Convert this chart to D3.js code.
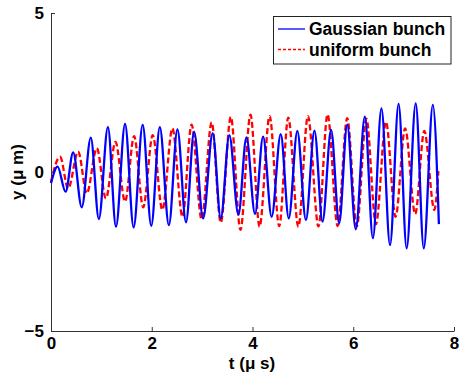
<!DOCTYPE html>
<html>
<head>
<meta charset="utf-8">
<script src="https://cdnjs.cloudflare.com/ajax/libs/d3/7.8.5/d3.min.js"></script>
<style>
  body { margin: 0; background: #fff; }
  svg text { font-family: "Liberation Sans", Arial, sans-serif; font-weight: bold; }
</style>
</head>
<body>
<svg id="svg1" width="459" height="377"></svg>
<script>
// extrema: [t (us), y (um)]
var gaussT = [0, 0.13, 0.29, 0.44, 0.61, 0.79, 0.95, 1.13, 1.29, 1.47, 1.64, 1.82, 1.99, 2.16, 2.34, 2.51, 2.68, 2.84, 3.02, 3.21, 3.37, 3.54, 3.72, 3.88, 4.05, 4.21, 4.38, 4.56, 4.72, 4.89, 5.06, 5.23, 5.39, 5.56, 5.72, 5.88, 6.05, 6.23, 6.39, 6.56, 6.73, 6.90, 7.06, 7.24, 7.40, 7.58, 7.70];
var gaussY = [-0.35, 0.17, -0.62, 0.62, -1.11, 1.08, -1.48, 1.41, -1.72, 1.51, -1.74, 1.48, -1.69, 1.41, -1.67, 1.34, -1.58, 1.27, -1.46, 1.22, -1.46, 1.16, -1.34, 1.09, -1.32, 1.11, -1.41, 1.19, -1.46, 1.29, -1.51, 1.30, -1.56, 1.32, -1.61, 1.48, -1.80, 1.74, -2.08, 2.00, -2.30, 2.14, -2.40, 2.16, -2.40, 2.11, -1.64];

var unifT = [0, 0.18, 0.34, 0.54, 0.71, 0.91, 1.09, 1.28, 1.47, 1.65, 1.83, 2.02, 2.21, 2.41, 2.61, 2.79, 2.99, 3.19, 3.37, 3.57, 3.76, 3.96, 4.14, 4.34, 4.53, 4.71, 4.91, 5.10, 5.31, 5.49, 5.69, 5.88, 6.07, 6.26, 6.45, 6.65, 6.84, 7.03, 7.23, 7.41, 7.61, 7.69];
var unifY = [-0.31, 0.48, -0.52, 0.64, -0.67, 0.75, -0.83, 0.95, -0.93, 1.13, -1.11, 1.16, -1.19, 1.37, -1.41, 1.49, -1.49, 1.56, -1.59, 1.73, -1.82, 1.80, -1.72, 1.76, -1.70, 1.71, -1.72, 1.76, -1.71, 1.81, -1.70, 1.69, -1.71, 1.68, -1.64, 1.58, -1.41, 1.37, -1.32, 1.29, -1.19, 0.03];

var xTicks = [0, 2, 4, 6, 8];
var yTicks = [-5, 0, 5];
var seriesNames = ["Gaussian bunch", "uniform bunch"];

var svg = d3.select('svg');

var x = d3.scaleLinear().domain([0, 8]).range([51, 454]);
var y = d3.scaleLinear().domain([-5, 5]).range([331, 13]);

var line = d3.line()
    .x(function(d){ return x(d[0]); })
    .y(function(d){ return y(d[1]); })
    .curve(d3.curveMonotoneX);

var gauss = gaussT.map(function(t, i){ return [t, gaussY[i]]; });
var unif = unifT.map(function(t, i){ return [t, unifY[i]]; });

// axes (no box, ticks pointing inward)
var xAxis = svg.append('g')
    .attr('transform', 'translate(0,' + y(-5) + ')')
    .call(d3.axisBottom(x).tickValues(xTicks).tickSize(-4).tickPadding(6).tickSizeOuter(0));
var yAxis = svg.append('g')
    .attr('transform', 'translate(' + x(0) + ',0)')
    .call(d3.axisLeft(y).tickValues(yTicks).tickSize(-4).tickPadding(7).tickSizeOuter(0));

[xAxis, yAxis].forEach(function(a){
  a.select('.domain').attr('stroke', '#333').attr('stroke-width', 1);
  a.selectAll('.tick line').attr('stroke', '#333');
  a.selectAll('.tick text').attr('font-size', 17).attr('fill', '#000')
      .style('font-family', '"Liberation Sans", Arial, sans-serif').style('font-weight', 'bold');
});

// series
svg.append('path')
    .datum(unif)
    .attr('d', line)
    .attr('fill', 'none')
    .attr('stroke', '#ff0000')
    .attr('stroke-width', 2.3)
    .attr('stroke-dasharray', '6,3');

svg.append('path')
    .datum(gauss)
    .attr('d', line)
    .attr('fill', 'none')
    .attr('stroke', '#0000ff')
    .attr('stroke-width', 2.3);

// axis titles
svg.append('text')
    .attr('x', 252).attr('y', 369)
    .attr('text-anchor', 'middle')
    .attr('font-size', 17)
    .text('t (\u03bc s)');

svg.append('text')
    .attr('transform', 'translate(23,172) rotate(-90)')
    .attr('text-anchor', 'middle')
    .attr('font-size', 17)
    .text('y (\u03bc m)');

// legend
var legend = svg.append('g');
legend.append('rect')
    .attr('x', 273.5).attr('y', 16.5)
    .attr('width', 177.5).attr('height', 47.5)
    .attr('fill', '#fff').attr('stroke', '#222').attr('stroke-width', 1);

var legColors = ['#0000ff', '#ff0000'];
var legDash = ['none', '3,2'];
legend.selectAll('line.leg')
    .data(seriesNames)
    .enter()
    .append('line')
    .attr('class', 'leg')
    .attr('x1', 278).attr('x2', 305)
    .attr('y1', function(d, i){ return 29 + i * 20.5; })
    .attr('y2', function(d, i){ return 29 + i * 20.5; })
    .style('stroke', function(d, i){ return legColors[i]; })
    .style('stroke-width', 1.3)
    .style('stroke-dasharray', function(d, i){ return legDash[i]; });

legend.selectAll('text.leg')
    .data(seriesNames)
    .enter()
    .append('text')
    .attr('class', 'leg')
    .attr('x', 309)
    .attr('y', function(d, i){ return 29 + i * 20.5; })
    .attr('dy', '0.35em')
    .attr('font-size', 17.5)
    .text(function(d){ return d; });
</script>
</body>
</html>
